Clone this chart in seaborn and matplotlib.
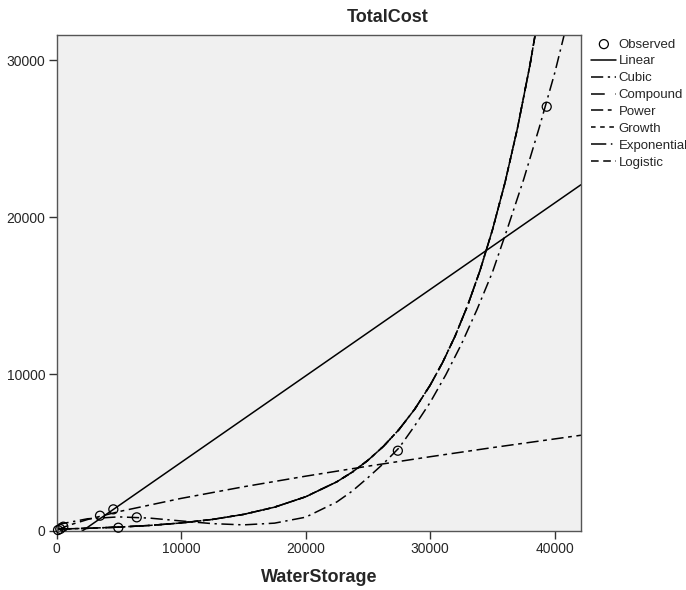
import seaborn as sns
import matplotlib.pyplot as plt

# observed points
water_obs = [120, 300, 545, 3490, 4560, 4960, 6440, 27400, 39350]
cost_obs = [60, 130, 275, 975, 1380, 210, 870, 5115, 27030]

# fitted curves
linear_x = [0, 42100]
linear_y = [-1140, 22060]

cubic_x = [0, 2500, 5000, 7500, 10000, 12500, 15000, 17500, 20000, 22500, 23750,
           25000, 26250, 27500, 28750, 30000, 31250, 32500, 33750, 35000, 36250,
           37500, 38750, 40000, 41000]
cubic_y = [400, 780, 900, 820, 640, 470, 390, 500, 880, 1850, 2550,
           3400, 4300, 5300, 6700, 8200, 9950, 11900, 14100, 16500, 19400,
           22400, 25700, 29200, 32400]

power_x = [0, 250, 1000, 2500, 5000, 10000, 15000, 20000, 25000, 30000, 35000, 42100]
power_y = [0, 131, 369, 734, 1235, 2077, 2815, 3493, 4129, 4733, 5313, 6100]

# compound / growth / exponential / logistic all land on the same curve
expo_x = [0, 2500, 5000, 7500, 10000, 12500, 15000, 17500, 20000, 22500, 23750,
          25000, 26250, 27500, 28750, 30000, 31000, 32000, 33000, 34000, 35000,
          36000, 37000, 38000, 39000]
expo_y = [120, 172, 248, 356, 512, 735, 1056, 1518, 2181, 3134, 3756,
          4504, 5399, 6472, 7758, 9298, 10750, 12425, 14364, 16605, 19200,
          22191, 25656, 29665, 34296]

sns.set_style('white')
plt.rcParams['font.family'] = ['Liberation Sans', 'DejaVu Sans']

fig = plt.figure(figsize=(6.86, 5.90), dpi=100)
ax = fig.add_axes([0.0824, 0.1, 0.7645, 0.8407])
ax.set_facecolor('#f0f0f0')

sns.scatterplot(x=water_obs, y=cost_obs, ax=ax, s=42, facecolor='none',
                edgecolor='black', linewidth=0.9, label='Observed', zorder=5, clip_on=False)

curves = [
    ('Linear', linear_x, linear_y, '-'),
    ('Cubic', cubic_x, cubic_y, (0, (8, 3, 1.5, 3))),
    ('Compound', expo_x, expo_y, (0, (9, 7))),
    ('Power', power_x, power_y, (0, (8, 3, 2.5, 3))),
    ('Growth', expo_x, expo_y, (0, (3, 3))),
    ('Exponential', expo_x, expo_y, (0, (10, 3, 1, 3))),
    ('Logistic', expo_x, expo_y, (0, (5, 3))),
]
for name, xs, ys, ls in curves:
    sns.lineplot(x=xs, y=ys, ax=ax, color='black', lw=1.1, linestyle=ls,
                 label=name, sort=False, estimator=None)

ax.set_xlim(0, 42100)
ax.set_ylim(0, 31600)
ax.set_xticks([0, 10000, 20000, 30000, 40000])
ax.set_yticks([0, 10000, 20000, 30000])
ax.tick_params(bottom=True, left=True, direction='out', length=6, width=1,
               labelsize=10, color='#333333', pad=2)
for sp in ax.spines.values():
    sp.set_color('#555555')
    sp.set_linewidth(1.0)

ax.set_xlabel('WaterStorage', fontsize=13, fontweight='bold', labelpad=9)
ax.set_ylabel('')
fig.text(0.565, 0.971, 'TotalCost', ha='center', va='center',
         fontsize=13, fontweight='bold')

handles, labels = ax.get_legend_handles_labels()
ax.legend(handles, labels, loc='upper left', bbox_to_anchor=(0.862, 0.935),
          bbox_transform=fig.transFigure, frameon=False, fontsize=9.5,
          handlelength=1.9, handletextpad=0.15, labelspacing=0.35,
          borderpad=0, borderaxespad=0)

fig.savefig('out.png', dpi=100)
